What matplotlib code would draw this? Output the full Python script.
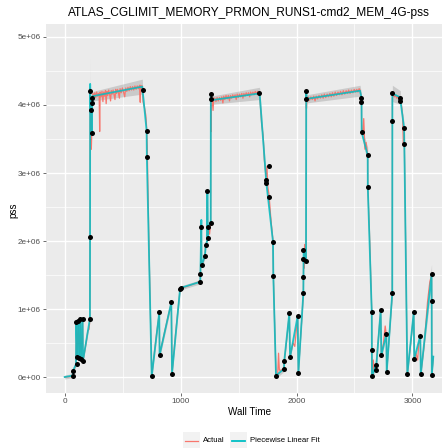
import matplotlib
matplotlib.use("Agg")
import matplotlib.pyplot as plt
from matplotlib.lines import Line2D
from matplotlib.patches import Rectangle
import numpy as np

plt.rcParams['font.family'] = ['Liberation Sans', 'DejaVu Sans']

title = "ATLAS_CGLIMIT_MEMORY_PRMON_RUNS1-cmd2_MEM_4G-pss"
x_label = "Wall Time"
y_label = "pss"
x_ticks = [0, 1000, 2000, 3000]
x_tick_labels = ["0", "1000", "2000", "3000"]
y_ticks = [0, 1e6, 2e6, 3e6, 4e6, 5e6]
y_tick_labels = ["0e+00", "1e+06", "2e+06", "3e+06", "4e+06", "5e+06"]
legend_labels = ["Actual", "Piecewise Linear Fit"]

# piecewise linear fit (y in millions) and ribbon half-width
fit_x = [0, 69, 72, 98, 100, 109, 117, 126, 135, 141, 155, 158, 218, 219, 220, 221, 224, 236, 237, 238, 242,
         670, 672, 707, 709, 751, 816, 819, 920, 926, 995, 1000, 1170, 1171, 1179, 1181, 1210, 1217, 1229,
         1231, 1234, 1239, 1260, 1261, 1263, 1679, 1683, 1740, 1797, 1800, 1823, 1892, 1894, 1938, 1944,
         2010, 2016, 2059, 2060, 2061, 2062, 2082, 2084, 2086, 2548, 2560, 2561, 2562, 2614, 2615, 2649,
         2650, 2651, 2683, 2685, 2726, 2732, 2775, 2778, 2826, 2827, 2896, 2897, 2928, 2930, 2956, 3011,
         3016, 3068, 3072, 3165, 3166, 3167, 3180]
fit_y = [0.00, 0.02, 0.09, 0.19, 0.81, 0.30, 0.83, 0.28, 0.85, 0.27, 0.86, 0.24, 0.86, 2.06, 4.31, 4.20,
         3.93, 3.59, 4.11, 4.03, 4.13, 4.27, 4.22, 3.62, 3.23, 0.01, 0.95, 0.32, 1.10, 0.05, 1.29, 1.31,
         1.40, 1.51, 2.31, 1.64, 1.78, 1.94, 2.00, 2.74, 2.05, 2.21, 2.27, 4.16, 4.07, 4.17, 4.14, 2.85,
         1.99, 1.49, 0.02, 0.12, 0.23, 0.94, 0.29, 0.90, 0.06, 1.23, 1.47, 1.74, 1.87, 1.71, 4.21, 4.09,
         4.21, 4.11, 4.04, 3.60, 3.26, 2.79, 0.96, 0.40, 0.01, 0.17, 0.10, 0.98, 0.32, 0.63, 0.07, 1.23,
         4.17, 4.11, 4.06, 3.66, 3.43, 0.04, 0.95, 0.27, 0.61, 0.04, 1.51, 1.12, 0.03, 0.30]
fit_se = [0.03, 0.03, 0.03, 0.03, 0.03, 0.03, 0.03, 0.03, 0.03, 0.03, 0.03, 0.03, 0.05, 0.05, 0.40, 0.10,
          0.08, 0.06, 0.06, 0.06, 0.07, 0.11, 0.06, 0.05, 0.05, 0.04, 0.04, 0.04, 0.05, 0.04, 0.04, 0.03,
          0.03, 0.03, 0.08, 0.04, 0.04, 0.04, 0.04, 0.06, 0.04, 0.04, 0.04, 0.05, 0.06, 0.09, 0.10, 0.08,
          0.05, 0.04, 0.04, 0.04, 0.04, 0.05, 0.04, 0.05, 0.04, 0.04, 0.04, 0.04, 0.04, 0.05, 0.06, 0.06,
          0.08, 0.06, 0.05, 0.06, 0.12, 0.06, 0.04, 0.04, 0.04, 0.04, 0.04, 0.05, 0.04, 0.04, 0.04, 0.05,
          0.12, 0.10, 0.06, 0.08, 0.06, 0.04, 0.05, 0.04, 0.06, 0.04, 0.15, 0.06, 0.04, 0.05]

# breakpoints (black dots)
bp_x = [69, 72, 106, 100, 117, 135, 155, 109, 126, 141, 158, 218, 219, 221, 224, 236, 237, 238, 672, 707,
        709, 751, 816, 819, 920, 926, 995, 1000, 1170, 1171, 1182, 1210, 1217, 1234, 1179, 1239, 1260, 1231,
        1262, 1263, 1679, 1763, 1737, 1738, 1763, 1797, 1800, 1823, 1892, 1892, 1938, 1944, 2010, 2016,
        2059, 2059, 2059, 2082, 2059, 2082, 2082, 2560, 2560, 2561, 2614, 2614, 2649, 2649, 2651, 2683,
        2684, 2726, 2732, 2775, 2778, 2826, 2826, 2826, 2896, 2896, 2928, 2930, 2956, 3011, 3016, 3068,
        3072, 3167, 3167, 3167]
bp_y = [0.02, 0.09, 0.19, 0.81, 0.83, 0.85, 0.86, 0.30, 0.28, 0.27, 0.24, 0.86, 2.06, 4.20, 3.93, 3.59,
        4.11, 4.03, 4.22, 3.62, 3.23, 0.01, 0.95, 0.32, 1.10, 0.05, 1.29, 1.31, 1.40, 1.51, 1.64, 1.78,
        1.94, 2.05, 2.21, 2.21, 2.27, 2.74, 4.16, 4.09, 4.17, 3.11, 2.90, 2.85, 2.65, 1.99, 1.49, 0.02,
        0.23, 0.12, 0.94, 0.29, 0.90, 0.06, 1.23, 1.47, 1.74, 1.71, 1.87, 4.21, 4.09, 4.11, 4.04, 3.60,
        3.26, 2.79, 0.96, 0.40, 0.01, 0.17, 0.10, 0.98, 0.32, 0.63, 0.07, 1.23, 3.77, 4.17, 4.11, 4.06,
        3.66, 3.43, 0.04, 0.95, 0.27, 0.61, 0.04, 1.51, 1.12, 0.03]

# actual measurements (y in millions)
actual_x = [0, 69, 72, 98, 100, 109, 117, 126, 135, 141, 155, 158, 175, 190, 200, 210, 218, 219, 220, 222,
            226, 230, 234, 238, 244, 252, 260, 268, 276, 284, 292, 298, 302, 306, 314, 322, 330, 336, 344,
            352, 358, 364, 372, 380, 388, 396, 402, 410, 418, 426, 434, 440, 448, 456, 464, 472, 478, 488,
            498, 508, 518, 526, 536, 546, 556, 566, 576, 586, 596, 606, 616, 626, 636, 646, 652, 656, 664,
            670, 676, 690, 700, 706, 712, 730, 751, 790, 816, 818, 819, 860, 900, 920, 926, 960, 995, 1000,
            1100, 1170, 1171, 1179, 1181, 1195, 1210, 1217, 1229, 1231, 1234, 1239, 1250, 1260, 1261, 1263,
            1266, 1272, 1280, 1286, 1295, 1305, 1315, 1325, 1335, 1345, 1355, 1365, 1372, 1382, 1392, 1402,
            1412, 1422, 1430, 1440, 1450, 1460, 1470, 1480, 1488, 1498, 1508, 1518, 1528, 1538, 1546, 1556,
            1566, 1576, 1586, 1596, 1604, 1614, 1624, 1634, 1644, 1654, 1664, 1672, 1679, 1690, 1700, 1712,
            1722, 1737, 1745, 1752, 1763, 1780, 1797, 1800, 1823, 1838, 1845, 1852, 1870, 1892, 1894, 1915,
            1938, 1944, 1970, 1985, 2010, 2016, 2040, 2059, 2060, 2061, 2065, 2070, 2082, 2084, 2086, 2090,
            2100, 2112, 2124, 2136, 2148, 2160, 2170, 2182, 2194, 2206, 2218, 2230, 2240, 2252, 2264, 2276,
            2288, 2300, 2310, 2322, 2334, 2346, 2358, 2370, 2380, 2392, 2404, 2416, 2428, 2440, 2450, 2462,
            2474, 2486, 2498, 2510, 2520, 2530, 2540, 2548, 2560, 2562, 2570, 2580, 2590, 2600, 2614, 2615,
            2630, 2649, 2650, 2652, 2662, 2670, 2683, 2685, 2705, 2726, 2732, 2750, 2765, 2775, 2778, 2800,
            2826, 2827, 2835, 2845, 2855, 2865, 2875, 2885, 2896, 2905, 2915, 2922, 2928, 2930, 2956, 2985,
            3011, 3016, 3030, 3045, 3055, 3068, 3072, 3100, 3130, 3150, 3165, 3166, 3167, 3180]
actual_y = [0.00, 0.01, 0.08, 0.18, 0.80, 0.31, 0.82, 0.29, 0.84, 0.28, 0.85, 0.25, 0.40, 0.56, 0.68, 0.70,
            0.85, 2.05, 4.25, 4.15, 3.90, 3.35, 3.60, 4.10, 4.17, 4.12, 4.18, 4.11, 4.19, 4.13, 4.17, 4.12,
            3.61, 4.19, 4.12, 4.20, 4.05, 4.19, 4.13, 4.21, 4.02, 4.20, 4.14, 4.22, 4.15, 4.06, 4.21, 4.16,
            4.22, 4.15, 4.08, 4.23, 4.17, 4.23, 4.18, 4.10, 4.24, 4.18, 4.25, 4.19, 4.12, 4.25, 4.20, 4.26,
            4.21, 4.27, 4.22, 4.27, 4.22, 4.28, 4.23, 4.28, 4.24, 4.29, 4.04, 4.29, 4.24, 4.28, 4.05, 3.95,
            3.85, 3.70, 3.40, 1.70, 0.02, 0.60, 0.94, 0.62, 0.33, 0.65, 0.95, 1.09, 0.06, 0.70, 1.28, 1.30,
            1.36, 1.41, 1.52, 2.25, 1.65, 1.70, 1.79, 1.95, 2.01, 2.70, 2.08, 2.20, 2.10, 2.28, 4.10, 3.61,
            4.05, 4.09, 3.92, 4.10, 4.10, 4.05, 4.11, 4.06, 4.11, 4.07, 4.12, 4.03, 4.13, 4.08, 4.14, 4.09,
            4.14, 4.06, 4.14, 4.10, 4.15, 4.11, 4.15, 4.08, 4.16, 4.11, 4.16, 4.12, 4.17, 4.10, 4.17, 4.13,
            4.18, 4.14, 4.18, 4.12, 4.19, 4.15, 4.19, 4.15, 4.20, 4.16, 4.20, 4.16, 4.19, 3.95, 3.70, 3.55,
            3.20, 2.95, 3.10, 2.80, 2.68, 2.30, 2.00, 1.50, 0.03, 0.05, 0.35, 0.10, 0.10, 0.13, 0.22, 0.55,
            0.93, 0.30, 0.50, 0.45, 0.89, 0.07, 0.70, 1.22, 1.46, 1.73, 1.60, 1.95, 1.72, 4.18, 3.95, 4.10,
            4.12, 4.07, 4.12, 4.08, 4.13, 4.06, 4.13, 4.09, 4.14, 4.10, 4.15, 4.10, 4.16, 4.11, 4.16, 4.12,
            4.17, 4.12, 4.18, 4.13, 4.19, 4.14, 4.19, 4.15, 4.20, 4.15, 4.21, 4.16, 4.21, 4.17, 4.22, 4.17,
            4.22, 4.18, 4.23, 4.19, 4.23, 4.19, 4.24, 4.22, 4.10, 3.65, 3.55, 3.80, 3.35, 3.45, 3.25, 2.80,
            2.10, 0.97, 0.41, 0.02, 0.25, 0.10, 0.18, 0.11, 0.55, 0.97, 0.33, 0.50, 0.75, 0.62, 0.08, 0.60,
            1.22, 4.10, 4.15, 4.12, 4.14, 4.10, 4.12, 4.08, 4.10, 4.00, 3.85, 3.40, 3.65, 3.45, 0.05, 0.50,
            0.94, 0.28, 0.35, 0.25, 0.50, 0.60, 0.05, 0.45, 1.10, 1.40, 1.50, 1.13, 0.04, 0.30]

W, H = 442, 448
fig = plt.figure(figsize=(W / 100, H / 100), dpi=100)
ax = fig.add_axes([46 / W, 55 / H, 410.6 / W, 369 / H])
ax.set_facecolor('#EBEBEB')
for s in ax.spines.values():
    s.set_visible(False)

ax.set_xlim(-161, 3381)
ax.set_ylim(-0.235e6, 5.191e6)

# grid
for v in [500, 1500, 2500]:
    ax.axvline(v, color='white', lw=0.5, zorder=0)
for v in np.arange(0.5e6, 5.0e6, 1e6):
    ax.axhline(v, color='white', lw=0.5, zorder=0)
for v in x_ticks:
    ax.axvline(v, color='white', lw=1.0, zorder=0)
for v in y_ticks:
    ax.axhline(v, color='white', lw=1.0, zorder=0)

fx = np.array(fit_x, dtype=float)
fy = np.array(fit_y) * 1e6
fse = np.array(fit_se) * 1e6

ax.fill_between(fx, fy - fse, fy + fse, color='#999999', alpha=0.4, lw=0, zorder=2)
ax.plot(actual_x, np.array(actual_y) * 1e6, color='#F8766D', lw=0.9, zorder=3)
ax.plot(fx, fy, color='#00BFC4', lw=1.3, zorder=4, alpha=0.85)
ax.scatter(bp_x, np.array(bp_y) * 1e6, s=13, color='black', zorder=5, linewidths=0)

ax.set_xticks(x_ticks)
ax.set_xticklabels(x_tick_labels)
ax.set_yticks(y_ticks)
ax.set_yticklabels(y_tick_labels)
ax.tick_params(axis='both', labelsize=5.9, labelcolor='#4D4D4D', color='#333333',
               length=2.2, width=0.5, pad=1.5)

fig.text(249 / W, 1 - 13 / H, title, ha='center', va='center', fontsize=8.6, color='black')
fig.text(250 / W, 1 - 412 / H, x_label, ha='center', va='center', fontsize=7.1, color='black')
fig.text(13 / W, 1 - 210 / H, y_label, ha='center', va='center', fontsize=7.1, rotation=90, color='black')

# legend
colors = ['#F8766D', '#00BFC4']
lws = [0.9, 1.3]
key_x = [183, 230]
text_x = [203, 250]
ly = 440.5
for i in range(2):
    fig.add_artist(Rectangle((key_x[i] / W, 1 - 449 / H), 17 / W, 17 / H,
                             transform=fig.transFigure, facecolor='#F2F2F2', edgecolor='none'))
    fig.add_artist(Line2D([(key_x[i] + 2) / W, (key_x[i] + 15) / W], [1 - ly / H, 1 - ly / H],
                          transform=fig.transFigure, color=colors[i], lw=lws[i]))
    fig.text(text_x[i] / W, 1 - ly / H, legend_labels[i], ha='left', va='center', fontsize=5.6, color='black')

fig.savefig('out.png', dpi=100)
